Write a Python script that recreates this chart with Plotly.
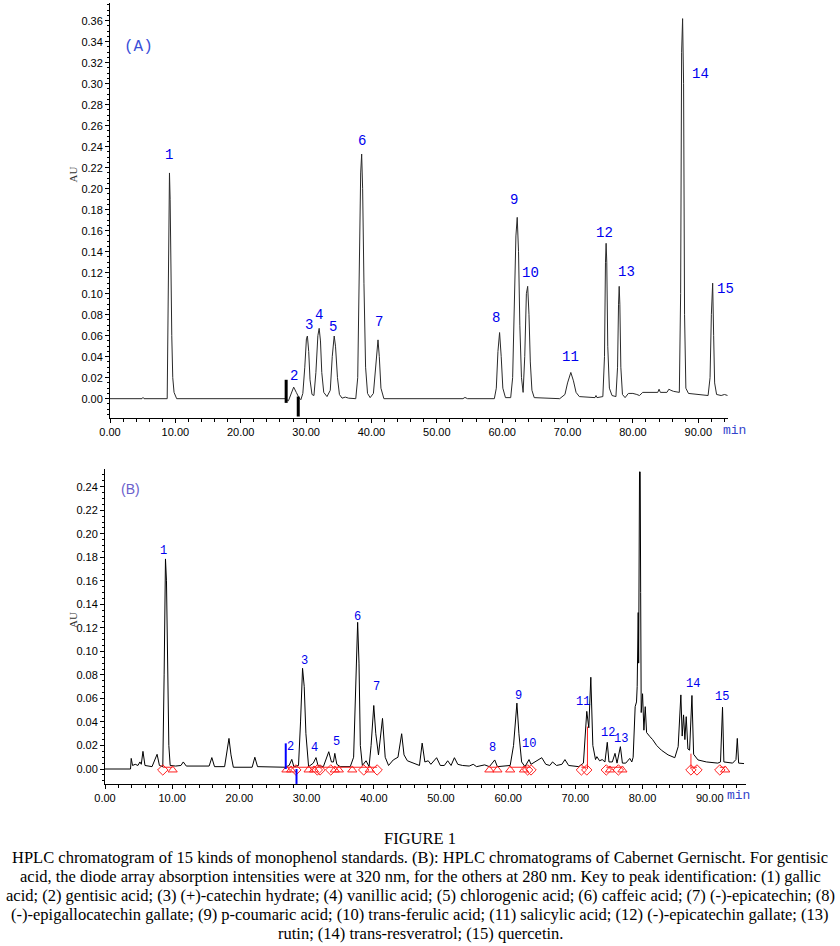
import plotly.graph_objects as go

W, H = 840, 946

# ---------------- Panel A: standards (time in min, absorbance in AU) ----------------
A_time = [0.0, 4.9, 5.05, 5.2, 8.75, 8.85, 8.95, 9.1, 9.2, 9.3, 9.45, 9.6, 9.8, 10.2,
          26.8, 27.3, 27.7, 28.1, 28.5, 28.9, 29.2, 29.5, 29.8, 30.05, 30.2, 30.4, 30.6, 30.9,
          31.2, 31.5, 31.8, 32.0, 32.2, 32.4, 32.7, 33.2, 33.7, 34.0, 34.3, 34.5, 34.8, 35.1,
          35.5, 36.0, 36.5, 37.6, 37.9, 38.15, 38.35, 38.5, 38.65, 38.85, 39.1, 39.4, 39.8,
          40.3, 40.65, 41.0, 41.2, 41.45, 41.9, 54.0, 54.3, 54.7, 58.8, 59.1, 59.35, 59.6,
          59.85, 60.1, 60.5, 61.3, 61.6, 61.9, 62.1, 62.3, 62.5, 62.7, 62.95, 63.2, 63.45,
          63.7, 63.9, 64.1, 64.3, 64.55, 64.9, 68.8, 69.6, 70.0, 70.5, 70.9, 71.3, 71.8,
          74.2, 74.35, 74.5, 75.4, 75.65, 75.8, 75.9, 76.0, 76.15, 76.4, 76.8, 77.4, 77.65,
          77.8, 77.9, 78.0, 78.15, 78.4, 78.8, 79.3, 80.0, 80.6, 81.0, 81.5, 83.8, 84.0,
          84.2, 85.2, 85.5, 85.8, 86.2, 87.1, 87.3, 87.45, 87.6, 87.75, 87.9, 88.1, 88.5,
          91.5, 91.8, 92.0, 92.2, 92.35, 92.5, 92.8, 93.5, 94.0, 94.5]
A_au = [0.0, 0.0, 0.0012, 0.0, 0.0, 0.06, 0.16, 0.215, 0.19, 0.12, 0.06, 0.02, 0.006, 0.0,
        0.0, -0.002, 0.005, 0.011, 0.006, 0.001, -0.001, 0.005, 0.03, 0.057, 0.0597, 0.045, 0.018, 0.004,
        0.003, 0.025, 0.06, 0.067, 0.055, 0.025, 0.006, 0.002, 0.008, 0.04, 0.0597, 0.05, 0.02, 0.004,
        0.0005, 0.0015, 0.0005, 0.0, 0.02, 0.14, 0.215, 0.233, 0.2, 0.11, 0.03, 0.005, 0.001,
        0.005, 0.032, 0.056, 0.04, 0.01, 0.0, 0.0, 0.0012, 0.0, 0.0, 0.01, 0.045, 0.063,
        0.04, 0.01, 0.001, 0.001, 0.02, 0.1, 0.155, 0.1727, 0.14, 0.07, 0.02, 0.006, 0.04,
        0.1, 0.107, 0.08, 0.035, 0.008, 0.001, 0.0, 0.004, 0.015, 0.025, 0.017, 0.006, 0.002,
        0.001, 0.003, 0.001, 0.002, 0.04, 0.13, 0.148, 0.13, 0.05, 0.01, 0.003, 0.002, 0.03,
        0.09, 0.107, 0.09, 0.03, 0.004, 0.001, 0.005, 0.005, 0.004, 0.003, 0.006, 0.006, 0.009,
        0.006, 0.006, 0.009, 0.008, 0.007, 0.006, 0.1, 0.33, 0.362, 0.3, 0.08, 0.01, 0.005,
        0.003, 0.02, 0.08, 0.11, 0.06, 0.015, 0.004, 0.003, 0.004, 0.003]

# integration event markers (black bars) in A
A_evt_time = [26.95, 28.8]
A_evt_top = [0.018, 0.002]
A_evt_bot = [-0.004, -0.017]

# ---------------- Panel B: Cabernet Gernischt ----------------
B_time = [0.0, 3.8, 3.9, 4.1, 4.5, 4.9, 5.2, 5.4, 5.65, 5.95, 7.0, 7.75, 8.1, 8.6, 8.8, 9.0,
          9.15, 9.3, 9.5, 9.7, 10.5, 11.3, 11.65, 12.1, 15.5, 15.9, 16.3, 17.8, 18.2, 18.45,
          18.75, 19.1, 21.9, 22.3, 22.7, 26.8, 27.4, 27.8, 28.1, 28.8, 29.1, 29.4, 29.65, 29.9,
          30.3, 31.0, 31.4, 31.7, 32.5, 32.9, 33.3, 33.7, 34.0, 34.2, 34.5, 35.0, 36.5, 37.0,
          37.3, 37.6, 37.8, 38.0, 38.3, 38.85, 39.3, 39.6, 40.0, 40.3, 40.7, 41.3, 41.7, 42.2,
          42.9, 43.6, 44.15, 44.5, 45.0, 45.9, 46.8, 47.2, 47.6, 48.1, 48.5, 49.35, 49.9, 50.5,
          51.0, 51.5, 52.0, 52.5, 53.2, 54.2, 54.8, 55.3, 56.5, 57.2, 58.0, 58.4, 60.3, 60.8,
          61.3, 61.6, 62.0, 62.5, 63.1, 63.4, 64.0, 65.0, 65.6, 66.2, 66.6, 67.2, 68.0, 68.45,
          69.0, 70.5, 71.2, 71.5, 71.7, 72.0, 72.3, 72.6, 73.0, 73.2, 73.6, 74.0, 74.4, 74.75,
          75.0, 75.5, 75.9, 76.2, 76.7, 77.0, 77.5, 78.1, 78.4, 78.6, 78.9, 79.1, 79.2, 79.35,
          79.42, 79.55, 79.65, 79.72, 79.8, 80.0, 80.2, 80.4, 80.6, 81.1, 81.5, 82.1, 82.8,
          83.8, 84.8, 85.3, 85.7, 85.9, 86.1, 86.3, 86.5, 86.75, 87.0, 87.35, 87.6, 88.25,
          89.5, 91.2, 91.6, 91.9, 92.1, 93.4, 93.9, 94.1, 94.3, 95.1]
B_au = [0.0, 0.0, 0.009, 0.003, 0.004, 0.003, 0.006, 0.004, 0.015, 0.003, 0.002, 0.0125, 0.003, 0.002, 0.08, 0.1786,
        0.16, 0.09, 0.02, 0.003, 0.0025, 0.003, 0.006, 0.0025, 0.0025, 0.0097, 0.002, 0.002, 0.015, 0.026,
        0.012, 0.0015, 0.0015, 0.010, 0.002, 0.0015, 0.003, 0.0082, 0.002, 0.003, 0.04, 0.0856, 0.07, 0.03,
        0.002, 0.005, 0.0097, 0.003, 0.002, 0.008, 0.0147, 0.006, 0.006, 0.0133, 0.004, 0.002, 0.002, 0.01,
        0.08, 0.1247, 0.09, 0.02, 0.003, 0.007, 0.002, 0.02, 0.054, 0.03, 0.012, 0.043, 0.01, 0.003,
        0.0077, 0.01, 0.030, 0.012, 0.007, 0.005, 0.003, 0.022, 0.006, 0.007, 0.004, 0.0096, 0.003, 0.003,
        0.007, 0.003, 0.0096, 0.004, 0.003, 0.0025, 0.004, 0.002, 0.0035, 0.002, 0.0077, 0.002, 0.003, 0.02,
        0.056, 0.03, 0.006, 0.002, 0.008, 0.004, 0.006, 0.0096, 0.004, 0.003, 0.006, 0.003, 0.004, 0.008,
        0.003, 0.002, 0.005, 0.030, 0.049, 0.035, 0.078, 0.02, 0.008, 0.0105, 0.007, 0.008, 0.006, 0.0227,
        0.006, 0.006, 0.0133, 0.005, 0.019, 0.005, 0.005, 0.009, 0.006, 0.01, 0.053, 0.057, 0.07, 0.133,
        0.09, 0.2526, 0.2526, 0.15, 0.048, 0.064, 0.033, 0.053, 0.031, 0.0275, 0.025, 0.020, 0.016,
        0.012, 0.0096, 0.019, 0.063, 0.028, 0.046, 0.025, 0.0445, 0.017, 0.016, 0.0625, 0.0125, 0.0077,
        0.006, 0.005, 0.006, 0.0525, 0.006, 0.005, 0.008, 0.026, 0.005, 0.0046]

# blue integration event bars in B
B_evt_time = [26.9, 28.5]
B_evt_top = [0.0218, 0.0]
B_evt_bot = [0.0, -0.0127]

# red peak-integration marks in B
B_tri_time = [10.07, 27.0, 27.7, 30.3, 31.1, 34.2, 34.8, 36.8, 39.4, 57.2, 58.4, 60.3,
              62.35, 75.15, 77.0, 92.3]
B_dia_time = [8.6, 28.4, 31.6, 32.0, 33.6, 38.5, 40.5, 62.9, 63.4, 70.9, 71.7, 74.6,
              76.4, 87.2, 88.1, 91.5]
B_base_start = [8.6, 26.9, 57.2, 60.3, 70.9, 74.6, 87.2, 91.5]
B_base_end = [10.07, 40.5, 58.4, 63.4, 71.7, 77.0, 88.1, 92.3]
B_drop_time = [71.8, 87.2]
B_drop_top = [0.036, 0.013]

peak_labels = [str(i) for i in range(1, 16)]

# ---------------- layout helpers (pixel -> paper) ----------------
def px(x):
    return x / W

def py(y):
    return 1 - y / H

# label positions in pixels (layout only)
A_lab_px = [(169.3, 155), (294.3, 375.7), (309.3, 325), (318.7, 315), (333.3, 327.3),
            (361.7, 141), (379, 321.7), (495.7, 317.7), (514, 200), (530, 272.7),
            (570, 356.7), (604.3, 232.7), (626.7, 271.7), (700, 74), (725, 289)]
B_lab_px = [(163.7, 550.7), (290, 746.7), (304, 660.7), (314.3, 748.3), (336, 741.7),
            (357.7, 616.7), (376.7, 686.7), (492.7, 747.7), (518.3, 696), (529.3, 744.3),
            (583.3, 702), (607.7, 733.3), (621, 739), (693.3, 684), (722.3, 697.3)]

fig = go.Figure()

# Panel A
fig.add_trace(go.Scatter(x=A_time, y=A_au, mode="lines", line=dict(color="#2a2a2a", width=1),
                         xaxis="x", yaxis="y", showlegend=False))
ex, ey = [], []
for t, a, b in zip(A_evt_time, A_evt_top, A_evt_bot):
    ex += [t, t, None]
    ey += [a, b, None]
fig.add_trace(go.Scatter(x=ex, y=ey, mode="lines", line=dict(color="black", width=3),
                         xaxis="x", yaxis="y", showlegend=False))

# Panel B
fig.add_trace(go.Scatter(x=B_time, y=B_au, mode="lines", line=dict(color="black", width=1),
                         xaxis="x2", yaxis="y2", showlegend=False))
bx, by = [], []
for s, e in zip(B_base_start, B_base_end):
    bx += [s, e, None]
    by += [0.0015, 0.0015, None]
for t, a in zip(B_drop_time, B_drop_top):
    bx += [t, t, None]
    by += [0.0, a, None]
fig.add_trace(go.Scatter(x=bx, y=by, mode="lines", line=dict(color="#ff2020", width=1),
                         xaxis="x2", yaxis="y2", showlegend=False))
fig.add_trace(go.Scatter(x=B_tri_time, y=[-0.0008] * len(B_tri_time), mode="markers",
                         marker=dict(symbol="triangle-up-open", color="#ff2020", size=8, line=dict(width=1)),
                         xaxis="x2", yaxis="y2", showlegend=False, cliponaxis=False))
fig.add_trace(go.Scatter(x=B_dia_time, y=[-0.0008] * len(B_dia_time), mode="markers",
                         marker=dict(symbol="diamond-open", color="#ff2020", size=8, line=dict(width=1)),
                         xaxis="x2", yaxis="y2", showlegend=False, cliponaxis=False))
vx, vy = [], []
for t, a, b in zip(B_evt_time, B_evt_top, B_evt_bot):
    vx += [t, t, None]
    vy += [a, b, None]
fig.add_trace(go.Scatter(x=vx, y=vy, mode="lines", line=dict(color="#0000ff", width=2),
                         xaxis="x2", yaxis="y2", showlegend=False))

tickfont = dict(family="Liberation Sans, Arial", size=11, color="black")
common = dict(showgrid=False, zeroline=False, showline=True, linecolor="black", linewidth=1,
              ticks="outside", ticklen=4, tickcolor="black", tickfont=tickfont, tickformat=".2f",
              automargin=False)

fig.update_layout(
    width=W, height=H, margin=dict(l=0, r=0, t=0, b=0, autoexpand=False),
    paper_bgcolor="white", plot_bgcolor="white", showlegend=False,
    xaxis=dict(common, domain=[px(110), px(727.7)], range=[0, 94.5], dtick=10, anchor="y",
               minor=dict(dtick=2, ticks="outside", ticklen=3, tickcolor="black")),
    yaxis=dict(common, domain=[py(418), py(3.3)], range=[-0.0184, 0.3766], dtick=0.02, anchor="x",
               minor=dict(dtick=0.005, ticks="outside", ticklen=2, tickcolor="black")),
    xaxis2=dict(common, domain=[px(105), px(745.7)], range=[0, 95.35], dtick=10, anchor="y2",
                minor=dict(dtick=2, ticks="outside", ticklen=3, tickcolor="black")),
    yaxis2=dict(common, domain=[py(784), py(469.3)], range=[-0.01275, 0.2548], dtick=0.02, anchor="x2",
                minor=dict(dtick=0.005, ticks="outside", ticklen=2, tickcolor="black")),
)

def note(x, y, text, font, angle=0):
    return dict(x=px(x), y=py(y), xref="paper", yref="paper", text=text, showarrow=False,
                xanchor="center", yanchor="middle", textangle=angle, font=font)

ann = []
for lab, (x, y) in zip(peak_labels, A_lab_px):
    ann.append(note(x, y, lab, dict(family="Liberation Mono", size=14, color="#0000ee")))
for lab, (x, y) in zip(peak_labels, B_lab_px):
    ann.append(note(x, y, lab, dict(family="Liberation Mono", size=12, color="#0000ee")))

ann += [
    note(138, 47, "(A)", dict(family="Liberation Mono", size=16, color="#3a4fd8")),
    note(130, 489, "(B)", dict(family="Liberation Sans", size=14, color="#6a60cc")),
    note(72.5, 175, "AU", dict(family="Liberation Serif", size=11, color="#333"), -90),
    note(73, 620, "AU", dict(family="Liberation Serif", size=11, color="#333"), -90),
    note(734, 430, "min", dict(family="Liberation Mono", size=13, color="#3344cc")),
    note(738, 795, "min", dict(family="Liberation Mono", size=13, color="#3344cc")),
]

caption_lines = [
    "FIGURE 1",
    "HPLC chromatogram of 15 kinds of monophenol standards. (B): HPLC chromatograms of Cabernet Gernischt. For gentisic",
    "acid, the diode array absorption intensities were at 320 nm, for the others at 280 nm. Key to peak identification: (1) gallic",
    "acid; (2) gentisic acid; (3) (+)-catechin hydrate; (4) vanillic acid; (5) chlorogenic acid; (6) caffeic acid; (7) (-)-epicatechin; (8)",
    "(-)-epigallocatechin gallate; (9) p-coumaric acid; (10) trans-ferulic acid; (11) salicylic acid; (12) (-)-epicatechin gallate; (13)",
    "rutin; (14) trans-resveratrol; (15) quercetin.",
]
caption_y = [838, 857.5, 876, 895, 914, 933]
for txt, y in zip(caption_lines, caption_y):
    ann.append(note(420, y, txt, dict(family="Liberation Serif", size=16.5, color="black")))

fig.update_layout(annotations=ann)
fig.write_html("out.html", config={"displayModeBar": False},
               post_script="document.body.style.margin='0px';document.body.style.overflow='hidden';")
